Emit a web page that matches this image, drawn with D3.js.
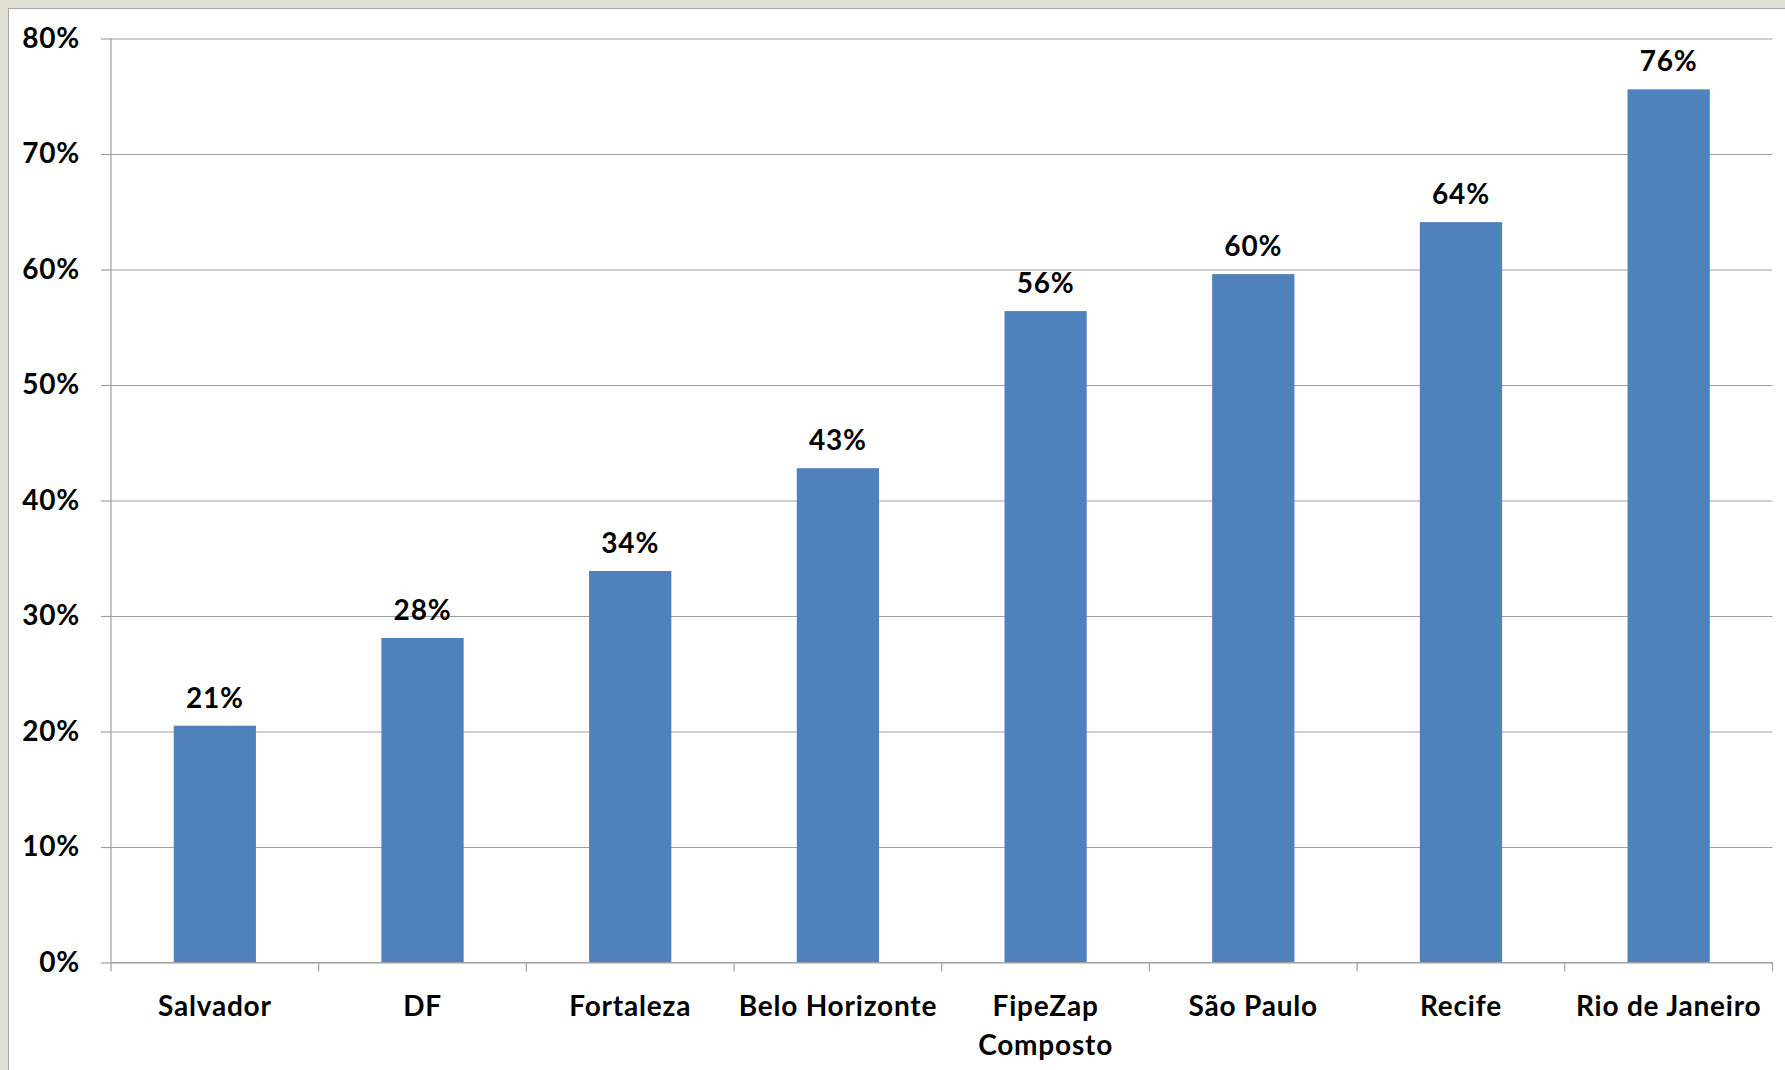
<!DOCTYPE html>
<html>
<head>
<meta charset="utf-8">
<script src="https://cdn.jsdelivr.net/npm/d3@7"></script>
<style>
  html, body { margin: 0; padding: 0; background: #e1e1d3; }
  svg { display: block; }
  text { font-family: Lato, "Open Sans", sans-serif; font-weight: 700; fill: #000; letter-spacing: 0.8px; }
</style>
</head>
<body>
<svg id="chart" width="1785" height="1070"></svg>
<script>
// Cities (one label may wrap onto two lines)
const categories = [
  ["Salvador"], ["DF"], ["Fortaleza"], ["Belo Horizonte"],
  ["FipeZap", "Composto"], ["São Paulo"], ["Recife"], ["Rio de Janeiro"]
];
// Percentage values per city
const values = [20.5, 28.1, 33.9, 42.8, 56.4, 59.6, 64.1, 75.6];
// Y axis ticks
const yTicks = [0, 10, 20, 30, 40, 50, 60, 70, 80];

const W = 1785, H = 1070;
const margin = { top: 38.5, right: 12.5, bottom: H - 962.5, left: 111 };
const width = W - margin.left - margin.right;
const height = H - margin.top - margin.bottom;
const FS = 28;

const svg = d3.select("#chart");

// white panel with thin grey edge
svg.append("rect")
  .attr("x", 8.5).attr("y", 8.5)
  .attr("width", W).attr("height", H)
  .attr("fill", "#fff").attr("stroke", "#a6a6a6").attr("stroke-width", 1);

const g = svg.append("g").attr("transform", `translate(${margin.left},${margin.top})`);

const names = categories.map(c => c.join(" "));
const x = d3.scaleBand().domain(names).range([0, width]).paddingInner(0.604).paddingOuter(0.302);
const y = d3.scaleLinear().domain([0, 80]).range([height, 0]);

// horizontal gridlines
const grid = g.append("g").call(d3.axisLeft(y).tickValues(yTicks).tickSize(-width).tickFormat(""));
grid.select(".domain").remove();
grid.selectAll("line").attr("stroke", "#a0a0a0").attr("stroke-width", 1.2);

// y axis labels and outer ticks
const yAx = g.append("g").call(
  d3.axisLeft(y).tickValues(yTicks).tickSize(10).tickPadding(21).tickFormat(d => d + "%")
);
yAx.select(".domain").attr("stroke", "#a0a0a0").attr("stroke-width", 1.2).attr("d", `M0,0V${height}`);
yAx.selectAll("line").attr("stroke", "#a0a0a0").attr("stroke-width", 1.2);
yAx.selectAll("text").attr("font-size", FS).attr("font-family", "Lato, sans-serif")
  .attr("font-weight", 700).attr("fill", "#000");

// bars
g.selectAll("rect.bar").data(values).join("rect")
  .attr("class", "bar")
  .attr("x", (d, i) => x(names[i]))
  .attr("width", x.bandwidth())
  .attr("y", d => y(d))
  .attr("height", d => height - y(d))
  .attr("fill", "#4f81bd");

// value labels
g.selectAll("text.val").data(values).join("text")
  .attr("class", "val")
  .attr("x", (d, i) => x(names[i]) + x.bandwidth() / 2)
  .attr("y", d => y(d) - 18)
  .attr("text-anchor", "middle")
  .attr("font-size", FS)
  .text(d => Math.round(d) + "%");

// x axis baseline and category boundary ticks
g.append("line").attr("x1", 0).attr("x2", width).attr("y1", height).attr("y2", height)
  .attr("stroke", "#a0a0a0").attr("stroke-width", 1.2);
const step = x.step();
g.selectAll("line.xt").data(d3.range(names.length + 1)).join("line")
  .attr("class", "xt")
  .attr("x1", i => i * step).attr("x2", i => i * step)
  .attr("y1", height).attr("y2", height + 9)
  .attr("stroke", "#a0a0a0").attr("stroke-width", 1.2);

// category labels
const cl = g.selectAll("text.cat").data(categories).join("text")
  .attr("class", "cat")
  .attr("text-anchor", "middle")
  .attr("font-size", FS)
  .attr("transform", (d, i) => `translate(${x(names[i]) + x.bandwidth() / 2},${height + 53})`);
cl.selectAll("tspan").data(d => d).join("tspan")
  .attr("x", 0).attr("dy", (d, j) => j === 0 ? 0 : 39)
  .text(d => d);
</script>
</body>
</html>
